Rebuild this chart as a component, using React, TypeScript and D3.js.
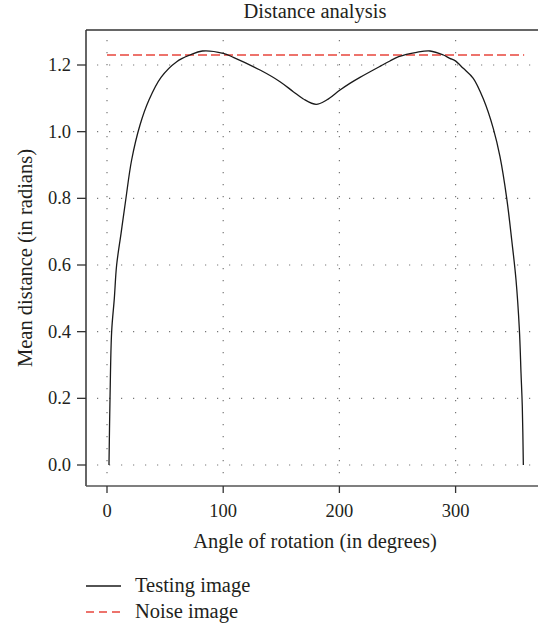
import React from "react";
import * as d3 from "d3";

const angles = [1.7, 2.6, 4.0, 6.3, 8.3, 12.1, 16.1, 21.2, 28.4, 36.1, 46.5, 60, 71.4, 82, 100, 108.7, 131.7, 148.9, 160.3, 169, 180, 189, 200.5, 209, 217.7, 236, 243.5, 251, 266.5, 278, 289.4, 295, 299.5, 306.6, 315.2, 324, 332.4, 338.2, 344, 348.3, 352, 354.9, 356.3, 357.4, 358.3];
const distances = [0, 0.2, 0.4, 0.5, 0.6, 0.695, 0.795, 0.915, 1.02, 1.095, 1.163, 1.21, 1.23, 1.242, 1.235, 1.223, 1.185, 1.15, 1.12, 1.098, 1.082, 1.095, 1.125, 1.145, 1.163, 1.198, 1.212, 1.225, 1.238, 1.242, 1.23, 1.22, 1.213, 1.19, 1.16, 1.097, 1.01, 0.925, 0.8, 0.675, 0.555, 0.405, 0.275, 0.175, 0];
const noiseLevel = 1.23;
const noiseRange = [0, 359];
const xTicks = [0, 100, 200, 300];
const yTicks = [0, 0.2, 0.4, 0.6, 0.8, 1.0, 1.2];
const seriesNames = ["Testing image", "Noise image"];

const W = 538, H = 627;
const left = 86, right = 538, top = 30, bottom = 486;
const font = "'Liberation Serif', 'Times New Roman', serif";
const textColor = "#231f20";
const red = "#e8453c";

export default function App() {
  const x = d3.scaleLinear().domain([0, 300]).range([107, 455.6]);
  const y = d3.scaleLinear().domain([0, 1.2]).range([465, 65]);
  const pts = angles.map((a, i) => [a, distances[i]] as [number, number]);
  const line = d3.line<[number, number]>().x(d => x(d[0])).y(d => y(d[1])).curve(d3.curveCatmullRom.alpha(0.5));
  const fs = 18.5;
  const fl = 20.5;
  return (
    <svg width={W} height={H} style={{ display: "block", position: "absolute", left: 0, top: 0 }}>
      <rect x={0} y={0} width={W} height={H} fill="#fff" />
      <text x={315} y={18} textAnchor="middle" fontFamily={font} fontSize={fl} fill={textColor}>Distance analysis</text>
      {yTicks.map(t => (
        <line key={"gy" + t} x1={x(-8.6)} x2={x(371)} y1={y(t)} y2={y(t)} stroke="#777" strokeWidth={1.2} strokeDasharray="1.2,10.8" />
      ))}
      {xTicks.map(t => (
        <line key={"gx" + t} x1={x(t)} x2={x(t)} y1={y(1.275)} y2={y(-0.03)} stroke="#777" strokeWidth={1.2} strokeDasharray="1.2,10.8" />
      ))}
      <line x1={x(noiseRange[0])} x2={x(noiseRange[1])} y1={y(noiseLevel)} y2={y(noiseLevel)} stroke={red} strokeWidth={1.5} strokeDasharray="9,4" />
      <path d={line(pts) || ""} fill="none" stroke="#1a1a1a" strokeWidth={1.3} />
      <line x1={left} x2={right} y1={top} y2={top} stroke="#333" strokeWidth={1.5} />
      <line x1={left} x2={left} y1={top} y2={bottom} stroke="#333" strokeWidth={1.5} />
      <line x1={left} x2={right} y1={bottom} y2={bottom} stroke="#555" strokeWidth={1.5} />
      {yTicks.map(t => (
        <g key={"yt" + t}>
          <line x1={left - 9} x2={left} y1={y(t)} y2={y(t)} stroke="#333" strokeWidth={1.3} />
          <text x={71} y={y(t) + 6} textAnchor="end" fontFamily={font} fontSize={fs} fill={textColor}>{t.toFixed(1)}</text>
        </g>
      ))}
      {xTicks.map(t => (
        <g key={"xt" + t}>
          <line x1={x(t)} x2={x(t)} y1={bottom} y2={bottom + 7} stroke="#333" strokeWidth={1.3} />
          <text x={x(t)} y={517} textAnchor="middle" fontFamily={font} fontSize={fs} fill={textColor}>{t}</text>
        </g>
      ))}
      <text x={315} y={548} textAnchor="middle" fontFamily={font} fontSize={fl} fill={textColor}>Angle of rotation (in degrees)</text>
      <text transform={`translate(31.5,${(top + bottom) / 2}) rotate(-90)`} textAnchor="middle" fontFamily={font} fontSize={fl} fill={textColor}>Mean distance (in radians)</text>
      <line x1={86} x2={121} y1={586} y2={586} stroke="#1a1a1a" strokeWidth={1.3} />
      <text x={135} y={592} fontFamily={font} fontSize={fl} fill={textColor}>{seriesNames[0]}</text>
      <line x1={86} x2={121} y1={612} y2={612} stroke={red} strokeWidth={1.3} strokeDasharray="8,5" />
      <text x={135} y={618} fontFamily={font} fontSize={fl} fill={textColor}>{seriesNames[1]}</text>
    </svg>
  );
}
